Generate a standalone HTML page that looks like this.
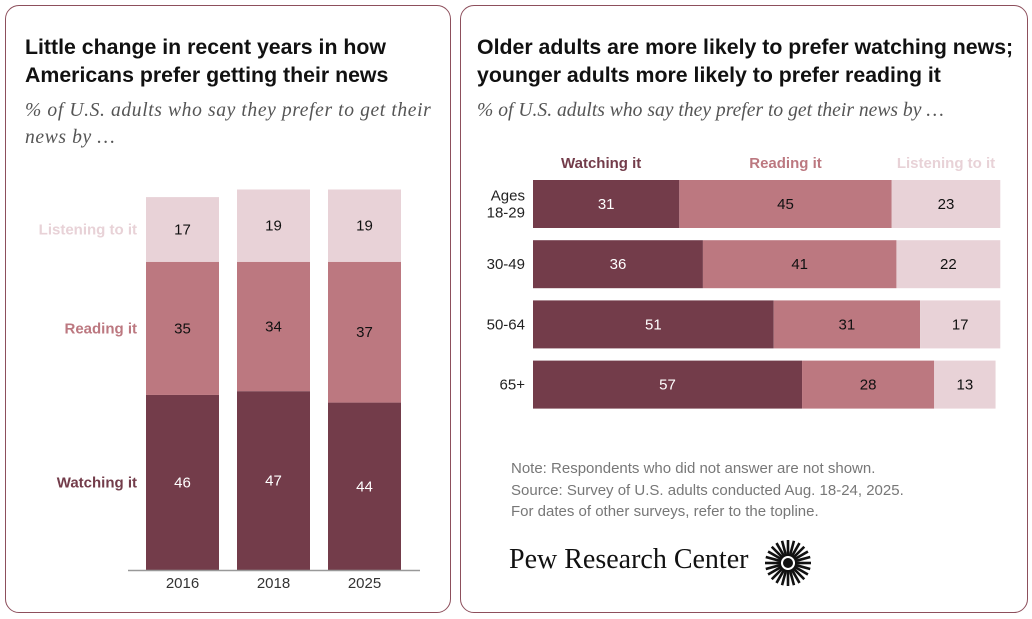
<!DOCTYPE html>
<html><head><meta charset="utf-8"><style>
body{margin:0;width:1032px;height:619px;background:#fff;font-family:"Liberation Sans",sans-serif;position:relative;overflow:hidden}
.panel{position:absolute;border:1.5px solid #8d4f5c;border-radius:14px;box-sizing:border-box}
.t{position:absolute;font-weight:bold;font-size:21.3px;line-height:28px;color:#111;white-space:nowrap}
.s{position:absolute;font-family:"Liberation Serif",serif;font-style:italic;font-size:19.6px;line-height:27px;color:#555;white-space:nowrap}
</style></head><body>
<div class="panel" style="left:5px;top:5px;width:446px;height:608px"></div>
<div class="panel" style="left:460px;top:5px;width:568px;height:608px"></div>
<div class="t" style="left:25px;top:33px">Little change in recent years in how<br>Americans prefer getting their news</div>
<div class="s" style="left:25px;top:97px;letter-spacing:0.6px">% of U.S. adults who say they prefer to get their<br>news by …</div>
<div class="t" style="left:477px;top:33px">Older adults are more likely to prefer watching news;<br>younger adults more likely to prefer reading it</div>
<div class="s" style="left:477px;top:97px">% of U.S. adults who say they prefer to get their news by …</div>
<svg width="1032" height="619" style="position:absolute;left:0;top:0" id="svg"></svg>
<div style="position:absolute;left:511px;top:458px;font-size:15px;line-height:21.5px;color:#777;white-space:nowrap">Note: Respondents who did not answer are not shown.<br>Source: Survey of U.S. adults conducted Aug. 18-24, 2025.<br>For dates of other surveys, refer to the topline.</div>
<div style="position:absolute;left:509px;top:544px;font-family:'Liberation Serif',serif;font-size:28px;color:#111;white-space:nowrap">Pew Research Center</div>
<svg width="50" height="50" style="position:absolute;left:763px;top:538px" id="logo"></svg>
<script>
const years=["2016","2018","2025"];
const watchL=[46,47,44];
const readL=[35,34,37];
const listenL=[17,19,19];
const ages=["Ages|18-29","30-49","50-64","65+"];
const watchR=[31,36,51,57];
const readR=[45,41,31,28];
const listenR=[23,22,17,13];
const C=["#733c4a","#bc7880","#e8d2d7"];
const NS="http://www.w3.org/2000/svg";
const svg=document.getElementById('svg');
function mk(tag,a,txt){const e=document.createElementNS(NS,tag);for(const k in a)e.setAttribute(k,a[k]);if(txt!=null)e.textContent=txt;svg.appendChild(e);return e;}
// left chart
const base=570,ky=3.805,bx0=146,bw=73,bstep=91;
const yL=v=>base-v*ky;
years.forEach((yr,i)=>{
 const x=bx0+i*bstep;let cum=0;
 [[watchL[i],0],[readL[i],1],[listenL[i],2]].forEach(([v,c])=>{
  const r=mk('rect',{x:x,y:yL(cum+v),width:bw,height:v*ky,fill:C[c]});
  
  
  const t=mk('text',{x:x+bw/2,y:yL(cum+v/2)+5,'text-anchor':'middle','font-size':15,fill:c==0?'#fff':'#111'},v);
  
  
  cum+=v;
 });
 const l=mk('text',{x:x+bw/2,y:588,'text-anchor':'middle','font-size':15,fill:'#333'},yr);
 
 
});
const ax=mk('line',{x1:128,x2:420,y1:base+0.5,y2:base+0.5,stroke:'#999','stroke-width':1.5});


[["Listening to it",yL(watchL[0]+readL[0]+listenL[0]/2),C[2]],["Reading it",yL(watchL[0]+readL[0]/2),C[1]],["Watching it",yL(watchL[0]/2),C[0]]].forEach(([n,y,c])=>{
 const t=mk('text',{x:137,y:y+5,'text-anchor':'end','font-size':15,'font-weight':'bold',fill:c},n);
 
 
});
// right chart
const rx0=533,kx=4.72,ry0=180,rh=48,rstep=60.2;
const xR=v=>rx0+v*kx;
ages.forEach((a,i)=>{
 const y=ry0+i*rstep;let cum=0;
 [[watchR[i],0],[readR[i],1],[listenR[i],2]].forEach(([v,c])=>{
  const r=mk('rect',{x:xR(cum),y:y,width:v*kx,height:rh,fill:C[c]});
  
  
  const t=mk('text',{x:xR(cum+v/2),y:y+rh/2+5,'text-anchor':'middle','font-size':15,fill:c==0?'#fff':'#111'},v);
  
  
  cum+=v;
 });
 const parts=a.split('|');
 parts.forEach((p,j)=>{
  const t=mk('text',{x:525,y:y+rh/2+5+(j-(parts.length-1)/2)*17,'text-anchor':'end','font-size':15,fill:'#222'},p);
  
  
 });
});
[["Watching it",xR(watchR[0]/2)-5,C[0]],["Reading it",xR(watchR[0]+readR[0]/2),C[1]],["Listening to it",xR(watchR[0]+readR[0]+listenR[0]/2),C[2]]].forEach(([n,x,c])=>{
 const t=mk('text',{x:x,y:168,'text-anchor':'middle','font-size':15,'font-weight':'bold',fill:c},n);
 
 
});
// logo
const lg=document.getElementById('logo');
for(let i=0;i<24;i++){const a=i*Math.PI/12;const l=document.createElementNS(NS,'line');
 l.setAttribute('x1',25+7*Math.cos(a));l.setAttribute('y1',25+7*Math.sin(a));
 l.setAttribute('x2',25+23*Math.cos(a));l.setAttribute('y2',25+23*Math.sin(a));
 l.setAttribute('stroke','#111');l.setAttribute('stroke-width',2.6);lg.appendChild(l);}
const cc=document.createElementNS(NS,'circle');cc.setAttribute('cx',25);cc.setAttribute('cy',25);cc.setAttribute('r',5);cc.setAttribute('fill','#111');lg.appendChild(cc);
</script>
</body></html>
